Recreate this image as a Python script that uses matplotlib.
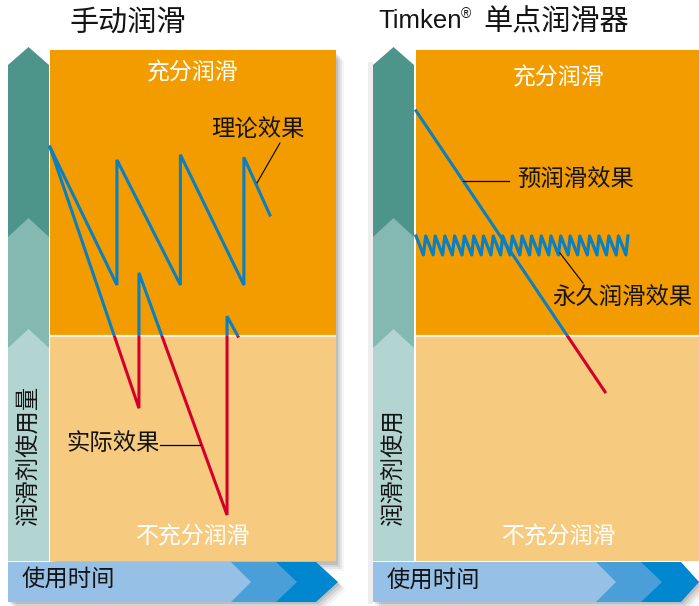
import matplotlib
matplotlib.use('Agg')
import matplotlib.pyplot as plt
from matplotlib.patches import Polygon, Rectangle

plt.rcParams['font.family'] = ['Noto Sans CJK SC', 'DejaVu Sans']
plt.rcParams['font.weight'] = 'medium'

# ---------------- data (time %, lubricant level %) ----------------
threshold_level = 44.0          # boundary between sufficient / insufficient

manual_theory_t = [0, 23.4, 23.4, 45.6, 45.6, 67.8, 67.8, 76.9]
manual_theory_level = [81.0, 54.0, 78.5, 54.0, 79.5, 54.0, 79.0, 67.7]

manual_actual_t = [0, 31.1, 31.1, 61.9, 61.9, 65.7]
manual_actual_level = [81.0, 29.9, 56.4, 9.0, 47.9, 44.0]

pre_lube_t = [0, 66.1]
pre_lube_level = [88.1, 33.1]

permanent_t = [0, 2.6, 3.4, 6.0, 6.7, 9.3, 10.1, 12.7, 13.5, 16.1, 16.9,
               19.5, 20.2, 22.8, 23.6, 26.2, 27.0, 29.6, 30.3, 32.9, 33.7,
               36.3, 37.1, 39.7, 40.4, 43.0, 43.8, 46.4, 47.2, 49.8, 50.6,
               53.2, 53.9, 56.5, 57.3, 59.9, 60.7, 63.3, 64.0, 66.6, 67.4,
               70.0, 70.8, 73.4, 74.1]
permanent_level = [63.6, 59.9, 63.6, 59.9, 63.6, 59.9, 63.6, 59.9, 63.6, 59.9,
                   63.6, 59.9, 63.6, 59.9, 63.6, 59.9, 63.6, 59.9, 63.6, 59.9,
                   63.6, 59.9, 63.6, 59.9, 63.6, 59.9, 63.6, 59.9, 63.6, 59.9,
                   63.6, 59.9, 63.6, 59.9, 63.6, 59.9, 63.6, 59.9, 63.6, 59.9,
                   63.6, 59.9, 63.6, 59.9, 63.6]

titles = ['手动润滑', '单点润滑器']
region_labels = ['充分润滑', '不充分润滑']
y_labels = ['润滑剂使用量', '润滑剂使用']
x_label = '使用时间'
curve_labels = ['理论效果', '实际效果', '预润滑效果', '永久润滑效果']

# ---------------- colours ----------------
ORANGE = '#f39c00'
LIGHT_ORANGE = '#f6cb80'
BLUE = '#0a7fc2'
RED = '#d4002c'
TEAL = ['#4d948a', '#84b9b2', '#b3d5d1']
ARROW_BLUE = ['#0087cf', '#4b9fd8', '#97c0e6']
INK = '#141414'

W, H = 699, 606
fig = plt.figure(figsize=(W / 100, H / 100), dpi=100)
bg = fig.add_axes([0, 0, 1, 1])
bg.set_xlim(0, W)
bg.set_ylim(H, 0)
bg.axis('off')


def decorations(dx, dark_tip, dark_sh, shadow_right=True):
    # soft shadows
    for d, a in [(2, 0.10), (4, 0.08), (6, 0.06), (8, 0.04)]:
        if shadow_right:
            bg.add_patch(Rectangle((50 + dx + d - 2, 52 + d), 288, 511,
                                   color='black', alpha=a, lw=0))
        bg.add_patch(Polygon([(8 + dx + d, 564 + d), (dark_sh + d, 564 + d),
                              (dark_tip + d, 582 + d), (dark_sh + d, 602 + d),
                              (8 + dx + d, 602 + d)],
                             closed=True, color='black', alpha=a, lw=0))
    # vertical arrow
    tips = [(65, 47), (237, 218), (348, 329)]
    for (sh, tp), c in zip(tips, TEAL):
        bg.add_patch(Polygon([(8 + dx, sh), (28.5 + dx, tp), (49 + dx, sh),
                              (49 + dx, 561), (8 + dx, 561)],
                             closed=True, color=c, lw=0))
    # horizontal arrow
    chev = [(dark_sh, dark_tip), (276 + dx, 297 + dx), (231 + dx, 251 + dx)]
    for (sh, tp), c in zip(chev, ARROW_BLUE):
        bg.add_patch(Polygon([(8 + dx, 562), (sh, 562), (tp, 582),
                              (sh, 602), (8 + dx, 602)],
                             closed=True, color=c, lw=0))


bg.add_patch(Rectangle((368, 62), 5, 542, color='#eeeeee', lw=0))
decorations(0, 338, 316)
decorations(365, 699, 681, shadow_right=False)

# titles
bg.text(127.5, 23, titles[0], fontsize=21, ha='center', va='center', color=INK)
bg.text(378, 21, 'Timken', fontsize=18.5, ha='left', va='center',
        family=['Liberation Sans', 'DejaVu Sans'], weight='normal', color=INK)
bg.text(461, 14, '®', fontsize=10, ha='left', va='center',
        family=['Liberation Sans', 'DejaVu Sans'], weight='normal', color=INK)
bg.text(483, 22, titles[1], fontsize=21, ha='left', va='center', color=INK)

# axis labels
bg.text(28.5, 456, y_labels[0], fontsize=16.8, rotation=90, ha='center',
        va='center', color=INK)
bg.text(393.5, 468, y_labels[1], fontsize=16.8, rotation=90, ha='center',
        va='center', color=INK)
bg.text(22, 579, x_label, fontsize=16.8, ha='left', va='center', color=INK)
bg.text(387, 580, x_label, fontsize=16.8, ha='left', va='center', color=INK)

# ---------------- plot panels ----------------
def make_panel(left_px, top_frac):
    ax = fig.add_axes([left_px / W, (H - 561) / H, 286 / W, 511 / H])
    ax.set_xlim(0, 100)
    ax.set_ylim(0, 100)
    ax.axis('off')
    ax.axhspan(threshold_level, 100, color=ORANGE, lw=0, zorder=0)
    ax.axhspan(0, threshold_level, color=LIGHT_ORANGE, lw=0, zorder=0)
    ax.axhline(threshold_level, color='#fdf1e2', lw=1.6, zorder=1)
    ax.text(0.5, top_frac, region_labels[0], transform=ax.transAxes, fontsize=16.5,
            color='white', ha='center', va='center')
    ax.text(0.5, 0.047, region_labels[1], transform=ax.transAxes, fontsize=16.5,
            color='white', ha='center', va='center')
    return ax


def split_line(ax, t, lv, lw=2.2, join='miter'):
    up = Rectangle((-50, threshold_level), 300, 200, transform=ax.transData)
    lo = Rectangle((-50, threshold_level - 200), 300, 200, transform=ax.transData)
    l1, = ax.plot(t, lv, color=BLUE, lw=lw, solid_joinstyle=join, zorder=3)
    l1.set_clip_path(up)
    l2, = ax.plot(t, lv, color=RED, lw=lw, solid_joinstyle=join, zorder=3)
    l2.set_clip_path(lo)


axL = make_panel(50, 0.955)
split_line(axL, manual_actual_t, manual_actual_level)
split_line(axL, manual_theory_t, manual_theory_level)
axL.text(56.5, 84.3, curve_labels[0], fontsize=16.8, ha='left', va='center', color=INK)
axL.plot([80.4, 72.4], [81.8, 74.0], color='black', lw=0.8, zorder=4)
axL.text(5.6, 22.9, curve_labels[1], fontsize=16.8, ha='left', va='center', color=INK)
axL.plot([38.5, 52.4], [22.7, 22.7], color='black', lw=0.9, zorder=4)

axR = make_panel(416, 0.946)
split_line(axR, pre_lube_t, pre_lube_level)
split_line(axR, permanent_t, permanent_level, lw=2.3, join='round')
axR.text(35.5, 74.6, curve_labels[2], fontsize=16.8, ha='left', va='center', color=INK)
axR.plot([16.4, 32.5], [74.4, 74.4], color='black', lw=0.9, zorder=4)
axR.text(47.6, 51.5, curve_labels[3], fontsize=16.8, ha='left', va='center', color=INK)
axR.plot([50.3, 58.4], [60.3, 54.4], color='black', lw=0.8, zorder=4)

fig.savefig('out.png', dpi=100)
